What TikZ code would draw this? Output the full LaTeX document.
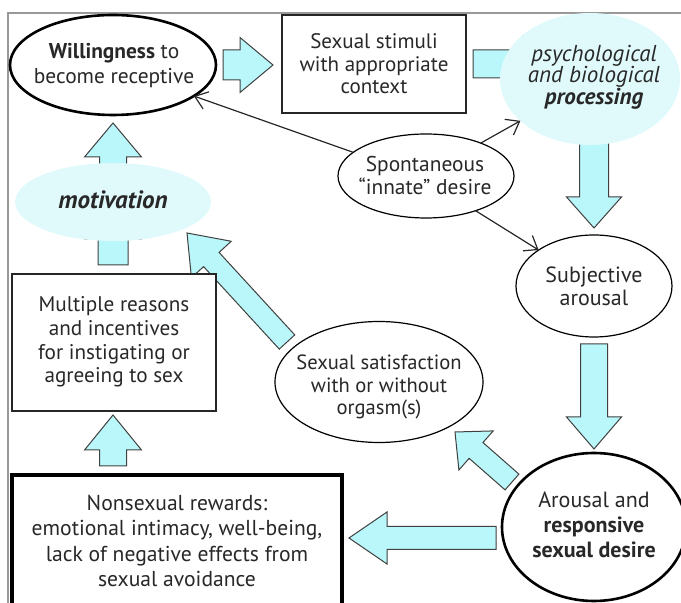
\documentclass[tikz,border=0pt]{standalone}
\usepackage{fontspec}
\setmainfont{PT Sans}
\usetikzlibrary{shapes.geometric,arrows.meta,calc}
\definecolor{arrowcyan}{RGB}{185,247,250}
\definecolor{blobcyan}{RGB}{224,250,252}
\definecolor{txt}{RGB}{40,40,40}
\newcommand\blockarrow[6]{% name, tail, tip, shaft hw, head hw, head length
  \coordinate (#1-b) at ($(#3)!#6!(#2)$);
  \draw[barrow] ($(#2)!#4!90:(#3)$) -- ($(#1-b)!#4!90:(#3)$) -- ($(#1-b)!#5!90:(#3)$)
    -- (#3) -- ($(#1-b)!#5!-90:(#3)$) -- ($(#1-b)!#4!-90:(#3)$) -- ($(#2)!#4!-90:(#3)$) -- cycle;
}
\begin{document}
\begin{tikzpicture}[x=0.5pt,y=-0.5pt,
  every node/.style={inner sep=0pt, outer sep=0pt},
  ell/.style={ellipse, draw=black, fill=white, line width=0.6pt},
  thickell/.style={ellipse, draw=black, fill=white, line width=1.3pt},
  blob/.style={ellipse, fill=blobcyan},
  rectbox/.style={rectangle, draw=black!85, fill=white, line width=0.8pt},
  thickbox/.style={rectangle, draw=black, fill=white, line width=1.7pt},
  lbl/.style={align=center, text=txt, font=\fontsize{10}{12}\selectfont},
  barrow/.style={fill=arrowcyan, draw=black!75, line width=0.5pt, line join=miter},
  thinarrow/.style={draw=black!85, line width=0.6pt, -{Straight Barb[length=6pt,width=9pt]}},
  framestyle/.style={draw=black!40, line width=0.6pt}]
\useasboundingbox (0,0) rectangle (681,603);
% frame
\coordinate (fr1) at (8,603);
\coordinate (fr2) at (8,13);
\coordinate (fr3) at (690,13);
\draw[framestyle] (fr1) -- (fr2) -- (fr3);
% block arrows (drawn first)
\coordinate (a1t) at (223,65);  \coordinate (a1h) at (273,65);
\coordinate (a2t) at (473,64);  \coordinate (a2h) at (556,64);
\coordinate (a3t) at (594,120); \coordinate (a3h) at (594,228);
\coordinate (a4t) at (594,344); \coordinate (a4h) at (594,449);
\coordinate (a5t) at (512,482); \coordinate (a5h) at (455,432);
\coordinate (a6t) at (496,538); \coordinate (a6h) at (349,538);
\coordinate (a7t) at (113,466); \coordinate (a7h) at (113,415);
\coordinate (a8t) at (113,265); \coordinate (a8h) at (113,206);
\coordinate (a9t) at (113,200); \coordinate (a9h) at (113,123);
\coordinate (a10t) at (287,342); \coordinate (a10h) at (187,233);
\blockarrow{A1}{a1t}{a1h}{7.5pt}{13.75pt}{16.5pt}
\blockarrow{A2}{a2t}{a2h}{7pt}{14pt}{16.5pt}
\blockarrow{A3}{a3t}{a3h}{7.25pt}{13.75pt}{15.5pt}
\blockarrow{A4}{a4t}{a4h}{6.75pt}{13.75pt}{16pt}
\blockarrow{A5}{a5t}{a5h}{5.25pt}{13pt}{14pt}
\blockarrow{A6}{a6t}{a6h}{5.75pt}{13pt}{19pt}
\blockarrow{A7}{a7t}{a7h}{6.75pt}{14.25pt}{17.5pt}
\blockarrow{A8}{a8t}{a8h}{7.5pt}{14pt}{16.5pt}
\blockarrow{A9}{a9t}{a9h}{6.75pt}{14.25pt}{17pt}
\blockarrow{A10}{a10t}{a10h}{5.25pt}{13.5pt}{18pt}
% shapes
\node[thickell, minimum width=103pt, minimum height=50pt] (will) at (113,65) {};
\node[rectbox, minimum width=92pt, minimum height=49pt] (stim) at (374,64) {};
\node[blob, minimum width=90pt, minimum height=66pt] (proc) at (590,79) {};
\node[ell, minimum width=88pt, minimum height=42pt] (spont) at (426,176) {};
\node[ell, minimum width=78pt, minimum height=51pt] (subj) at (594,286) {};
\node[thickell, minimum width=92pt, minimum height=74pt] (arous) at (594,527) {};
\node[ell, minimum width=104pt, minimum height=60.5pt] (satis) at (379,382) {};
\node[blob, minimum width=98pt, minimum height=39pt] (motiv) at (113,202) {};
\node[rectbox, minimum width=102pt, minimum height=68.5pt] (mult) at (114,342.5) {};
\node[thickbox, minimum width=165pt, minimum height=82.5pt] (nons) at (177,557.5) {};
% texts
\node[lbl, font=\fontsize{10.7}{12.5}\selectfont] (willt) at (114,66) {\textbf{Willingness} to\\become receptive};
\node[lbl, font=\fontsize{10.5}{11.25}\selectfont] (stimt) at (374,64) {Sexual stimuli\\with appropriate\\context};
\node[lbl, font=\fontsize{11.5}{10.75}\selectfont\itshape] (proct) at (594,77) {psychological\\and biological\\\textbf{processing}};
\node[lbl, font=\fontsize{10.7}{11.5}\selectfont] (spontt) at (425,176) {Spontaneous\\“innate” desire};
\node[lbl, font=\fontsize{11}{11.5}\selectfont] (subjt) at (594,286) {Subjective\\arousal};
\node[lbl, font=\fontsize{11}{12.5}\selectfont] (aroust) at (594,525) {Arousal and\\\textbf{responsive}\\\textbf{sexual desire}};
\node[lbl, font=\fontsize{10.3}{11.25}\selectfont] (satist) at (379,387) {Sexual satisfaction\\with or without\\orgasm(s)};
\node[lbl, font=\fontsize{12.5}{12}\selectfont\bfseries\itshape] (motivt) at (113,200) {motivation};
\node[lbl, font=\fontsize{10.6}{11.8}\selectfont] (multt) at (114,342) {Multiple reasons\\and incentives\\for instigating or\\agreeing to sex};
\node[lbl, font=\fontsize{10.8}{12.6}\selectfont] (nonst) at (177,541) {Nonsexual rewards:\\emotional intimacy, well-being,\\lack of negative effects from\\sexual avoidance};
% thin arrows
\draw[thinarrow] (spont.162) -- (will.-21);
\draw[thinarrow] (spont.31) -- (proc.211);
\draw[thinarrow] (spont.-35) -- (subj.147);
\end{tikzpicture}
\end{document}
